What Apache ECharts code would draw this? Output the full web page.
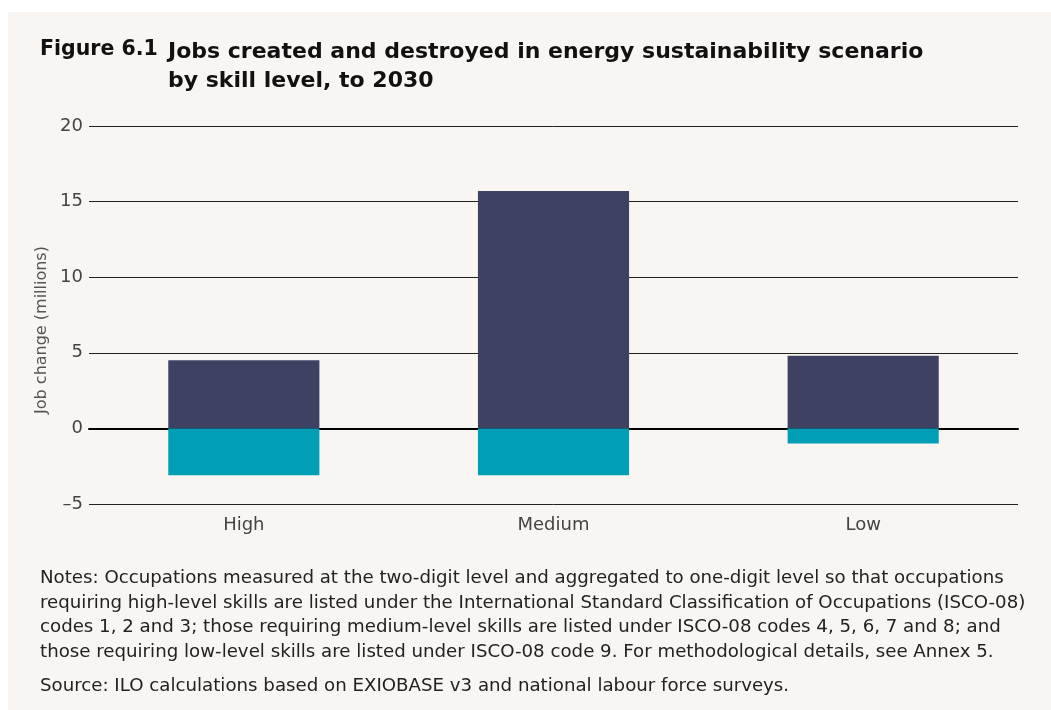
<!DOCTYPE html>
<html>
<head>
<meta charset="utf-8">
<script src="https://cdn.jsdelivr.net/npm/echarts@6/dist/echarts.min.js"></script>
<style>
  html, body { margin: 0; padding: 0; background: #ffffff; }
  #chart { width: 1051px; height: 710px; }
</style>
</head>
<body>
<div id="chart"></div>
<script>
// skill levels and job changes (millions) to 2030
const skillLevels = ['High', 'Medium', 'Low'];
const jobsCreated = [4.5, 15.7, 4.8];
const jobsDestroyed = [-3.1, -3.1, -1.0];
const yTicks = { min: -5, max: 20, step: 5 };

const FONT = 'DejaVu Sans';

const notesText = [
    'Notes: Occupations measured at the two-digit level and aggregated to one-digit level so that occupations',
    'requiring high-level skills are listed under the International Standard Classification of Occupations (ISCO-08)',
    'codes 1, 2 and 3; those requiring medium-level skills are listed under ISCO-08 codes 4, 5, 6, 7 and 8; and',
    'those requiring low-level skills are listed under ISCO-08 code 9. For methodological details, see Annex 5.'
].join('\n');

const chart = echarts.init(document.getElementById('chart'));

const option = {
    backgroundColor: '#ffffff',
    animation: false,
    textStyle: { fontFamily: FONT },
    grid: {
        left: 89,
        right: 33,
        top: 126,
        bottom: 206,
        containLabel: false
    },
    xAxis: {
        type: 'category',
        data: skillLevels,
        axisTick: { show: false },
        axisLine: { show: true, onZero: true, lineStyle: { color: '#000', width: 2 } },
        axisLabel: { color: '#444', fontSize: 18, margin: 12, fontFamily: FONT }
    },
    yAxis: {
        type: 'value',
        min: yTicks.min,
        max: yTicks.max,
        interval: yTicks.step,
        axisLine: { show: false },
        axisTick: { show: false },
        splitLine: { lineStyle: { color: '#222', width: 1 } },
        axisLabel: {
            color: '#444',
            fontSize: 18,
            margin: 6,
            fontFamily: FONT,
            formatter: v => String(v).replace('-', '\u2013')
        }
    },
    series: [
        {
            name: 'Jobs created',
            type: 'bar',
            stack: 'jobs',
            barWidth: '48.8%',
            itemStyle: { color: '#3f4163' },
            data: jobsCreated
        },
        {
            name: 'Jobs destroyed',
            type: 'bar',
            stack: 'jobs',
            itemStyle: { color: '#019fb5' },
            data: jobsDestroyed
        }
    ],
    graphic: [
        {
            type: 'rect',
            silent: true,
            z: -10,
            shape: { x: 8, y: 12, width: 1043, height: 698 },
            style: { fill: '#f8f5f2' }
        },
        {
            type: 'text',
            left: 40,
            top: 39,
            style: { text: 'Figure 6.1', fontFamily: FONT, fontSize: 20.5, fontWeight: 'bold', fill: '#111' }
        },
        {
            type: 'text',
            left: 168,
            top: 38,
            style: {
                text: 'Jobs created and destroyed in energy sustainability scenario\nby skill level, to 2030',
                fontFamily: FONT, fontSize: 22, fontWeight: 'bold', fill: '#111', lineHeight: 29
            }
        },
        {
            type: 'text',
            x: 42,
            y: 330,
            rotation: Math.PI / 2,
            style: {
                text: 'Job change (millions)',
                fontFamily: FONT, fontSize: 16, fill: '#555',
                align: 'center', verticalAlign: 'middle'
            }
        },
        {
            type: 'text',
            left: 40,
            top: 566,
            style: { text: notesText, fontFamily: FONT, fontSize: 18.2, fill: '#222', lineHeight: 24.7 }
        },
        {
            type: 'text',
            left: 40,
            top: 677,
            style: {
                text: 'Source: ILO calculations based on EXIOBASE v3 and national labour force surveys.',
                fontFamily: FONT, fontSize: 18.2, fill: '#222'
            }
        }
    ]
};

chart.setOption(option);
</script>
</body>
</html>
